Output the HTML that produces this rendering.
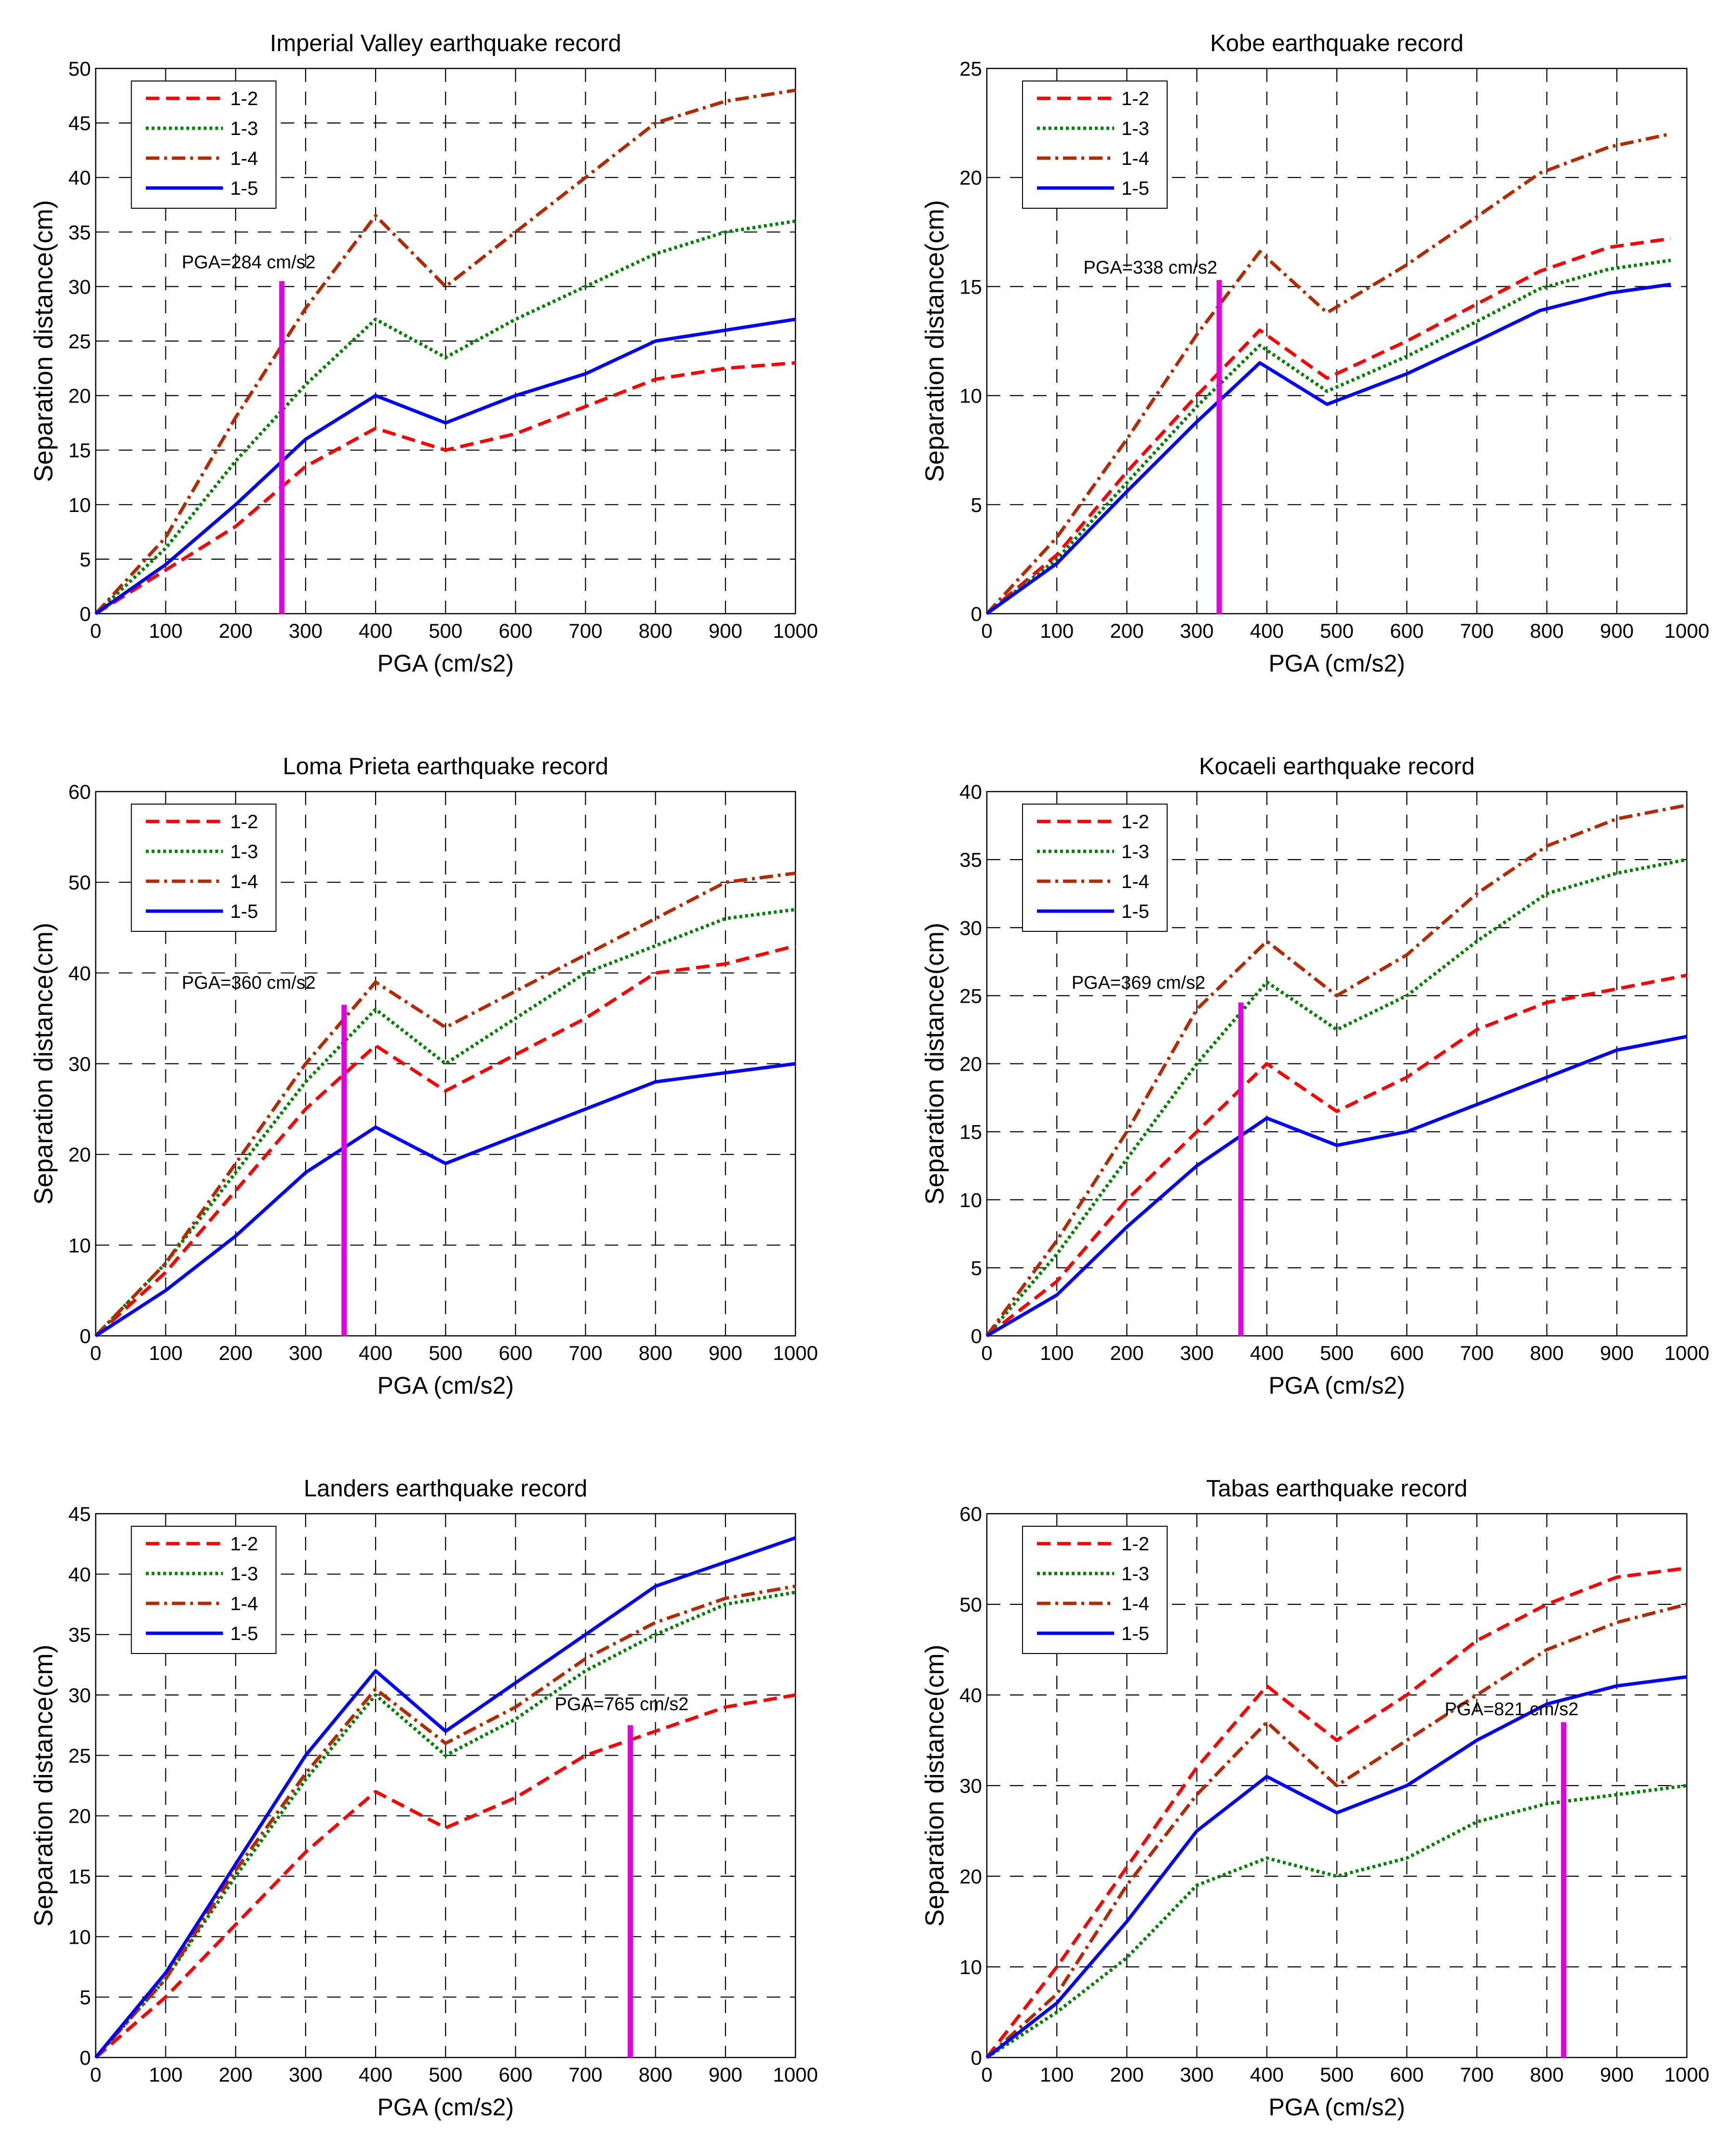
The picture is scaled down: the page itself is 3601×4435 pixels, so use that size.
<!DOCTYPE html>
<html><head><meta charset="utf-8"><style>
html,body{margin:0;padding:0;background:#fff}
svg{display:block}
text{font-family:"Liberation Sans",Arial,sans-serif;fill:#000}
</style></head>
<body>
<svg id="fig" width="3601" height="4435" viewBox="0 0 3601 4435" xmlns="http://www.w3.org/2000/svg"></svg>
<script>
const pgaStd = [0,100,200,300,400,500,600,700,800,900,1000];
const pgaKobe = [0,100,200,300,390,486,600,700,790,889,977];
const seriesNames = ["1-2","1-3","1-4","1-5"];

const ivTitle = "Imperial Valley earthquake record";
const iv12 = [0,4,8,13.5,17,15,16.5,19,21.5,22.5,23];
const iv13 = [0,6,14,21,27,23.5,27,30,33,35,36];
const iv14 = [0,7,18,28,36.5,30,35,40,45,47,48];
const iv15 = [0,4.5,10,16,20,17.5,20,22,25,26,27];
const ivPga = 266, ivPgaTop = 30.5, ivLabel = "PGA=284 cm/s2";

const kbTitle = "Kobe earthquake record";
const kb12 = [0,2.7,6.5,10,13,10.8,12.5,14.2,15.7,16.8,17.2];
const kb13 = [0,2.5,6,9.5,12.3,10.2,11.8,13.4,14.9,15.8,16.2];
const kb14 = [0,3.5,8,12.8,16.6,13.8,16,18.2,20.2,21.4,22];
const kb15 = [0,2.3,5.6,8.8,11.5,9.6,11,12.5,13.9,14.7,15.1];
const kbPga = 332, kbPgaTop = 15.3, kbLabel = "PGA=338 cm/s2";

const lpTitle = "Loma Prieta earthquake record";
const lp12 = [0,7,16,25,32,27,31,35,40,41,43];
const lp13 = [0,8,18,28,36,30,35,40,43,46,47];
const lp14 = [0,8,19,30,39,34,38,42,46,50,51];
const lp15 = [0,5,11,18,23,19,22,25,28,29,30];
const lpPga = 355, lpPgaTop = 36.5, lpLabel = "PGA=360 cm/s2";

const kcTitle = "Kocaeli earthquake record";
const kc12 = [0,4,10,15,20,16.5,19,22.5,24.5,25.5,26.5];
const kc13 = [0,6,13,20,26,22.5,25,29,32.5,34,35];
const kc14 = [0,7,15,24,29,25,28,32.5,36,38,39];
const kc15 = [0,3,8,12.5,16,14,15,17,19,21,22];
const kcPga = 363, kcPgaTop = 24.5, kcLabel = "PGA=369 cm/s2";

const ldTitle = "Landers earthquake record";
const ld12 = [0,5,11,17,22,19,21.5,25,27,29,30];
const ld13 = [0,6.5,15,23,30,25,28,32,35,37.5,38.5];
const ld14 = [0,6.5,15.5,23.5,30.5,26,29,33,36,38,39];
const ld15 = [0,7,16,25,32,27,31,35,39,41,43];
const ldPga = 764, ldPgaTop = 27.5, ldLabel = "PGA=765 cm/s2";

const tbTitle = "Tabas earthquake record";
const tb12 = [0,10,21,32,41,35,40,46,50,53,54];
const tb13 = [0,5,11,19,22,20,22,26,28,29,30];
const tb14 = [0,7,19,29,37,30,35,40,45,48,50];
const tb15 = [0,6,15,25,31,27,30,35,39,41,42];
const tbPga = 824, tbPgaTop = 37, tbLabel = "PGA=821 cm/s2";

const xTicks = [0,100,200,300,400,500,600,700,800,900,1000];

const NS = "http://www.w3.org/2000/svg";
const fig = document.getElementById('fig');
function mk(tag, attrs, parent){
  const e = document.createElementNS(NS, tag);
  for (const k in attrs) e.setAttribute(k, attrs[k]);
  parent.appendChild(e);
  return e;
}
const styles = [
  {c:"#ff0000", d:"28,14"},
  {c:"#008000", d:"6,6"},
  {c:"#b22a00", d:"28,10,6,10"},
  {c:"#0000ff", d:""}
];

function plot(slug, x0, x1, y0, y1, title, xs, ser, ymax, ystep, pga, pgaTop, lbl, lblX, lblY){
  const g = mk('g', {}, fig);
  
  
  const sx = v => x0 + (v/1000)*(x1-x0);
  const sy = v => y1 - (v/ymax)*(y1-y0);
  for (const t of xTicks){
    if (t>0 && t<1000){
      const l = mk('line', {x1:sx(t),x2:sx(t),y1:y0,y2:y1,stroke:"#000","stroke-width":2.2,"stroke-dasharray":"28,20"}, g);
      
      
    }
    const tx = mk('text', {x:sx(t), y:y1+50, "font-size":42, "text-anchor":"middle"}, g);
    tx.textContent = t;
    
    
  }
  for (let v=0; v<=ymax+1e-9; v+=ystep){
    if (v>0 && v<ymax){
      const l = mk('line', {x1:x0,x2:x1,y1:sy(v),y2:sy(v),stroke:"#000","stroke-width":2.2,"stroke-dasharray":"28,20"}, g);
      
      
    }
    const ty = mk('text', {x:x0-10, y:sy(v)+15, "font-size":42, "text-anchor":"end"}, g);
    ty.textContent = v;
    
    
  }
  const box = mk('rect', {x:x0,y:y0,width:x1-x0,height:y1-y0,fill:"none",stroke:"#000","stroke-width":2.5}, g);
  
  
  ser.forEach((arr, i) => {
    const pts = arr.map((v,j) => sx(xs[j]).toFixed(1)+","+sy(v).toFixed(1)).join(" ");
    const p = mk('polyline', {points:pts, fill:"none", stroke:styles[i].c, "stroke-width":7, "stroke-dasharray":styles[i].d, "stroke-linejoin":"round"}, g);
    
    
  });
  const m = mk('line', {x1:sx(pga),x2:sx(pga),y1:sy(pgaTop),y2:y1,stroke:"#e000e0","stroke-width":11}, g);
  
  
  const ml = mk('text', {x:sx(lblX), y:sy(lblY)+14, "font-size":38}, g);
  ml.textContent = lbl;
  
  
  const tt = mk('text', {x:(x0+x1)/2, y:y0-36, "font-size":49, "text-anchor":"middle"}, g);
  tt.textContent = title;
  
  
  const xl = mk('text', {x:(x0+x1)/2, y:y1+120, "font-size":50, "text-anchor":"middle"}, g);
  xl.textContent = "PGA (cm/s2)";
  
  
  const yl = mk('text', {x:0, y:0, "font-size":54, "text-anchor":"middle", transform:`translate(${x0-90},${(y0+y1)/2}) rotate(-90)`}, g);
  yl.textContent = "Separation distance(cm)";
  
  
  const lg = mk('g', {}, g);
  
  
  const lx = x0+74, ly = y0+26;
  mk('rect', {x:lx, y:ly, width:300, height:264, fill:"#fff", stroke:"#000", "stroke-width":2}, lg);
  seriesNames.forEach((n,i) => {
    const yy = ly + 36 + i*62;
    const ll = mk('line', {x1:lx+30, x2:lx+190, y1:yy, y2:yy, stroke:styles[i].c, "stroke-width":7, "stroke-dasharray":styles[i].d}, lg);
    
    
    const lt = mk('text', {x:lx+205, y:yy+14, "font-size":40}, lg);
    lt.textContent = n;
    
    
  });
}
const LX0=198.5, LX1=1650, RX0=2047, RX1=3499;
plot('imperial-valley', LX0, LX1, 142, 1273, ivTitle, pgaStd, [iv12,iv13,iv14,iv15], 50, 5, ivPga, ivPgaTop, ivLabel, 123, 32.3);
plot('kobe', RX0, RX1, 142, 1273, kbTitle, pgaKobe, [kb12,kb13,kb14,kb15], 25, 5, kbPga, kbPgaTop, kbLabel, 138, 15.9);
plot('loma-prieta', LX0, LX1, 1642, 2771, lpTitle, pgaStd, [lp12,lp13,lp14,lp15], 60, 10, lpPga, lpPgaTop, lpLabel, 123, 39);
plot('kocaeli', RX0, RX1, 1642, 2771, kcTitle, pgaStd, [kc12,kc13,kc14,kc15], 40, 5, kcPga, kcPgaTop, kcLabel, 121, 26);
plot('landers', LX0, LX1, 3140, 4268, ldTitle, pgaStd, [ld12,ld13,ld14,ld15], 45, 5, ldPga, ldPgaTop, ldLabel, 656, 29.3);
plot('tabas', RX0, RX1, 3140, 4268, tbTitle, pgaStd, [tb12,tb13,tb14,tb15], 60, 10, tbPga, tbPgaTop, tbLabel, 654, 38.5);
</script>
</body></html>
